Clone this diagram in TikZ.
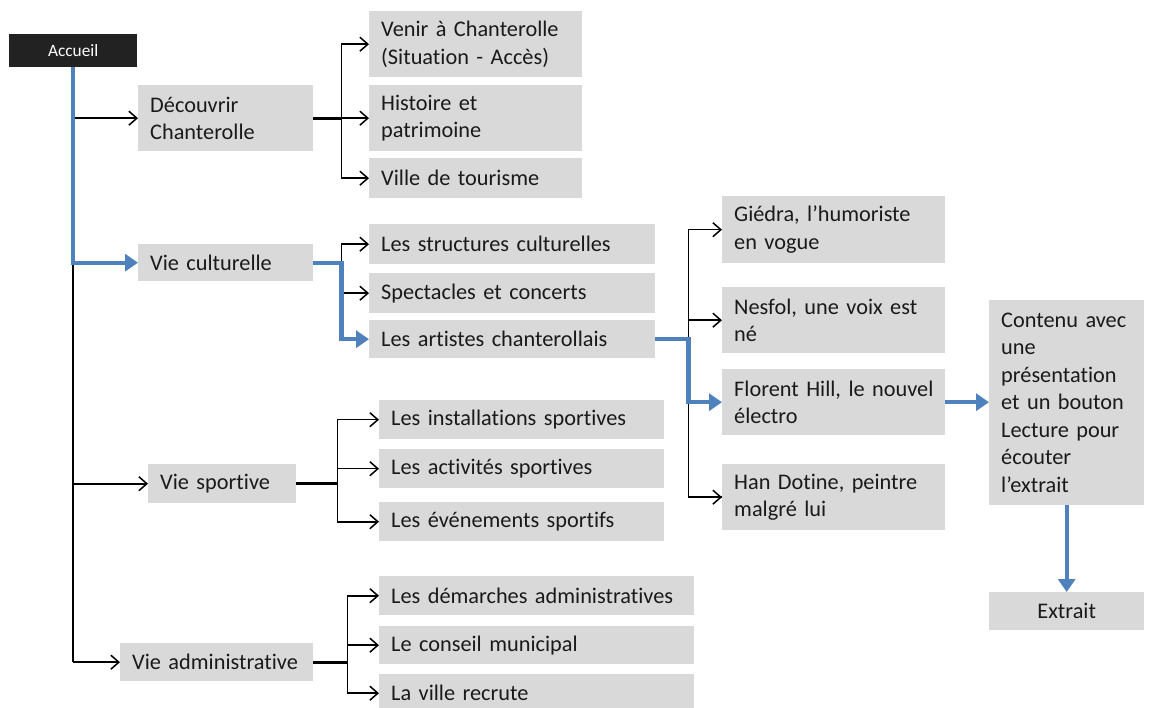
\documentclass[tikz,border=0pt]{standalone}
\usepackage{fontspec}
\setmainfont{Carlito}[Ligatures=NoCommon]
\usetikzlibrary{arrows.meta,calc}
\definecolor{cellgray}{HTML}{D9D9D9}
\definecolor{navblue}{HTML}{4F81BD}
\definecolor{inkdark}{HTML}{1A1A1A}
\definecolor{headfill}{HTML}{222222}
% box text: no hyphenation, lines are broken by hand
\newcommand\cellfont{\fontsize{22.3}{27.5}\selectfont\hyphenpenalty=10000 \exhyphenpenalty=10000 \hbadness=10000 \hfuzz=20pt\relax}
\begin{document}
\begin{tikzpicture}[x=1pt,y=-1pt,
  cell/.style={fill=cellgray, text=inkdark, anchor=north west, inner xsep=12pt, inner ysep=0pt,
    align=left, font=\cellfont},
  head/.style={fill=headfill, text=white, anchor=north west, inner sep=0pt,
    font=\fontsize{17.3}{20}\selectfont},
  link/.style={draw=black, line width=1.6pt, -{Straight Barb[length=8pt,width=14pt,line width=1.5pt]}},
  plain/.style={draw=black, line width=1.6pt},
  stub/.style={draw=black, line width=3pt},
  hot/.style={draw=navblue, line width=4.2pt, line join=miter},
  hotarrow/.style={hot, -{Triangle[length=13pt,width=17pt]}}
]
\useasboundingbox (0,0) rectangle (1149,708);

% top entry
\node[head, minimum width=128pt, minimum height=33pt] (acc) at (9,34) {Accueil};

% first level
\node[cell, minimum width=175pt, minimum height=66pt, text width=151pt] (dec) at (138,85) {Découvrir\\Chanterolle};
\node[cell, minimum width=175pt, minimum height=37pt, text width=151pt] (cul) at (138,244) {Vie culturelle};
\node[cell, minimum width=148pt, minimum height=39pt, text width=124pt] (spo) at (148,464) {Vie sportive};
\node[cell, minimum width=193pt, minimum height=38pt, text width=169pt] (adm) at (120,643) {Vie administrative};

% Découvrir Chanterolle
\node[cell, minimum width=213pt, minimum height=66pt, text width=189pt] (venir) at (369,11) {Venir à Chanterolle\\(Situation - Accès)};
\node[cell, minimum width=213pt, minimum height=66pt, text width=189pt] (hist) at (369,85) {Histoire et\\patrimoine};
\node[cell, minimum width=213pt, minimum height=40pt, text width=189pt] (tour) at (369,158) {Ville de tourisme};

% Vie culturelle
\node[cell, minimum width=286pt, minimum height=40pt, text width=262pt] (struc) at (369,224) {Les structures culturelles};
\node[cell, minimum width=286pt, minimum height=40pt, text width=262pt] (spect) at (369,273) {Spectacles et concerts};
\node[cell, minimum width=286pt, minimum height=38pt, text width=262pt] (art) at (369,320) {Les artistes chanterollais};

% artistes
\node[cell, minimum width=223pt, minimum height=67pt, text width=199pt] (gie) at (722,196) {\mbox{Giédra, l’humoriste}\\en vogue};
\node[cell, minimum width=223pt, minimum height=66pt, text width=199pt] (nes) at (722,287) {\mbox{Nesfol, une voix est}\\né};
\node[cell, minimum width=223pt, minimum height=66pt, text width=199pt] (flo) at (722,369) {\mbox{Florent Hill, le nouvel}\\électro};
\node[cell, minimum width=223pt, minimum height=66pt, text width=199pt] (han) at (722,464) {\mbox{Han Dotine, peintre}\\malgré lui};

% contenu et extrait
\node[cell, minimum width=155pt, minimum height=205pt, text width=131pt] (cont) at (989,300)
  {Contenu avec\\une\\présentation\\et un bouton\\Lecture pour\\écouter\\l’extrait};
\node[cell, align=center, minimum width=155pt, minimum height=38pt, text width=131pt] (ext) at (989,592) {Extrait};

% Vie sportive
\node[cell, minimum width=285pt, minimum height=39pt, text width=261pt] (inst) at (379,400) {Les installations sportives};
\node[cell, minimum width=285pt, minimum height=39pt, text width=261pt] (act) at (379,449) {Les activités sportives};
\node[cell, minimum width=285pt, minimum height=39pt, text width=261pt] (evt) at (379,502) {Les événements sportifs};

% Vie administrative
\node[cell, minimum width=315pt, minimum height=39pt, text width=291pt] (dem) at (379,576) {Les démarches administratives};
\node[cell, minimum width=315pt, minimum height=38pt, text width=291pt] (cons) at (379,626) {Le conseil municipal};
\node[cell, minimum width=315pt, minimum height=38pt, text width=291pt] (rec) at (379,674) {La ville recrute};

% junction points
\coordinate (tj) at (acc.south);
\coordinate (dj) at ($(dec.east)+(28,0)$);
\coordinate (cj) at ($(cul.east)+(28,0)$);
\coordinate (sj) at ($(spo.east)+(41,0)$);
\coordinate (aj) at ($(adm.east)+(34,0)$);
\coordinate (rj) at ($(art.east)+(33,0)$);

% main trunk
\draw[plain] (tj) -- (tj |- adm.west);
\draw[link] (tj |- dec.west) -- (dec.west);
\draw[link] (tj |- spo.west) -- (spo.west);
\draw[link] (tj |- adm.west) -- (adm.west);

% Découvrir branch
\draw[stub] (dec.east) -- (dj);
\draw[link] (dj) |- (venir.west);
\draw[link] (dj) -- (hist.west);
\draw[link] (dj) |- (tour.west);

% Vie culturelle branch
\draw[link] (cj) |- (struc.west);
\draw[link] (cj |- spect.west) -- (spect.west);

% Vie sportive branch
\draw[stub] (spo.east) -- (sj);
\draw[link] (sj) |- (inst.west);
\draw[link] (sj) |- (act.west);
\draw[link] (sj) |- (evt.west);

% Vie administrative branch
\draw[stub] (adm.east) -- (aj);
\draw[link] (aj) |- (dem.west);
\draw[link] (aj) |- (cons.west);
\draw[link] (aj) |- (rec.west);

% artistes branch
\draw[link] (rj) |- (gie.west);
\draw[plain] (rj) |- (han.west);
\draw[link] (rj |- nes.west) -- (nes.west);
\draw[link] (rj |- han.west) -- (han.west);

% highlighted route
\draw[hotarrow] (tj) -- (tj |- cul.west) -- (cul.west);
\draw[hotarrow] (cul.east) -- (cj) |- (art.west);
\draw[hotarrow] (art.east) -- (rj) |- (flo.west);
\draw[hotarrow] (flo.east) -- (flo.east -| cont.west);
\draw[hotarrow] (cont.south) -- (ext.north);
\end{tikzpicture}
\end{document}
